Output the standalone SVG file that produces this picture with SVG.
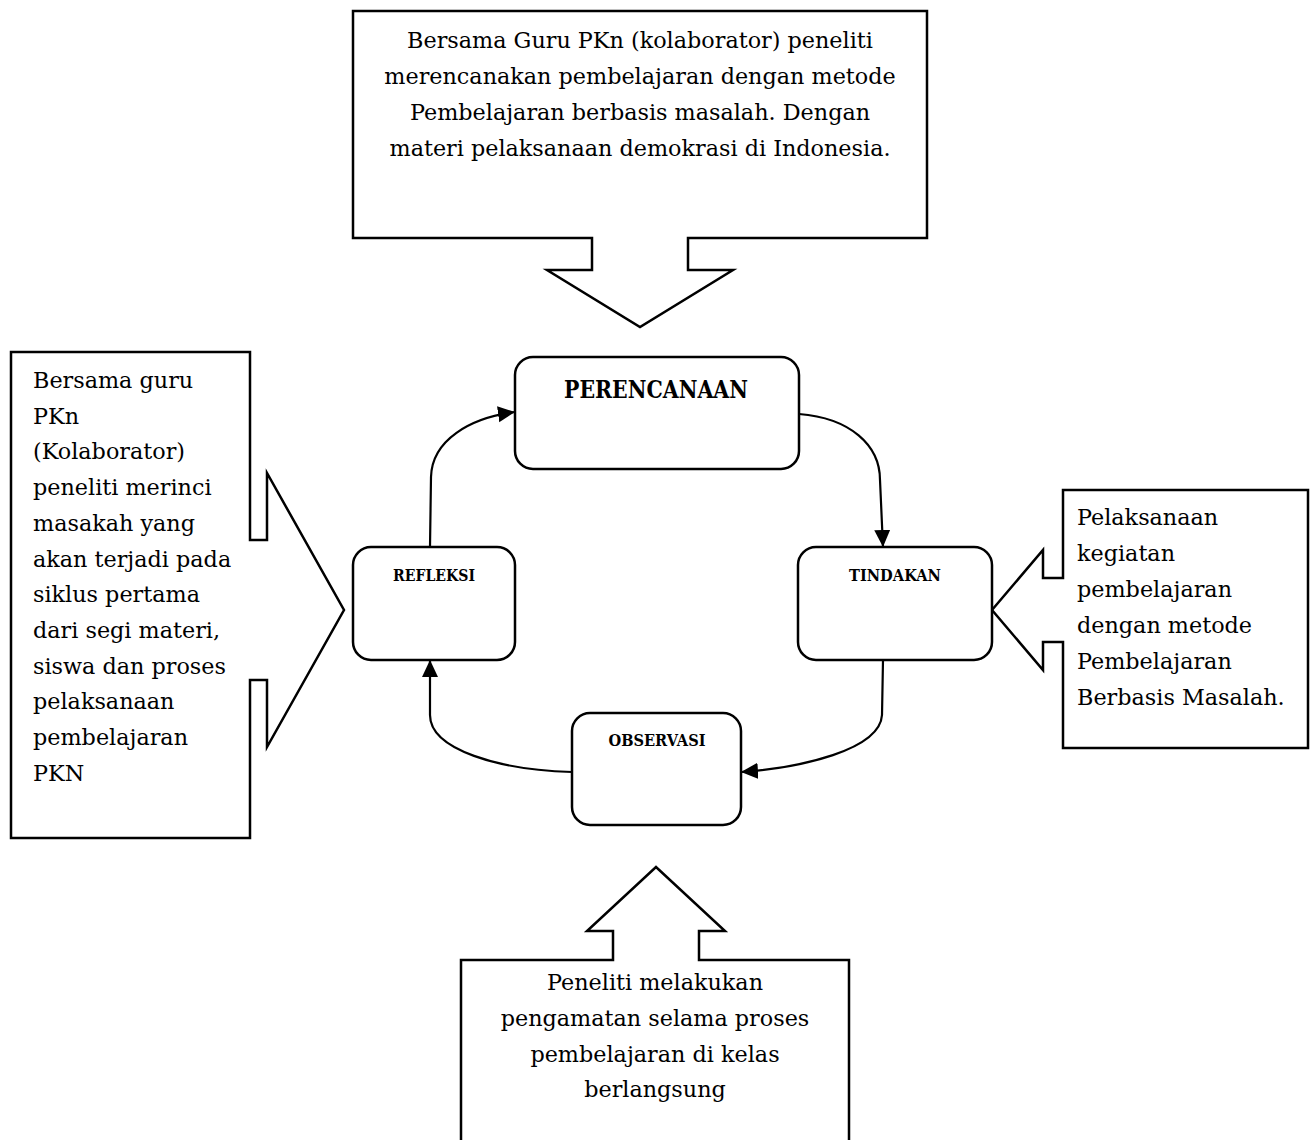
<svg xmlns="http://www.w3.org/2000/svg" width="1314" height="1140" viewBox="0 0 1314 1140">
<style>
.callout{fill:#fff;stroke:#000;stroke-width:2.5;stroke-linejoin:miter}
.step{fill:#fff;stroke:#000;stroke-width:2.5}
.conn{fill:none;stroke:#000;stroke-width:2.2}
.body{font-family:"DejaVu Serif","Liberation Serif",serif;font-size:22.3px;fill:#000}
.mid{text-anchor:middle}
.lbl{font-family:"DejaVu Serif","Liberation Serif",serif;font-weight:bold;fill:#000;text-anchor:middle}
</style>
<defs>
<marker id="ah" markerUnits="userSpaceOnUse" markerWidth="20" markerHeight="18" refX="17" refY="8" orient="auto">
<path d="M0,0 L17,8 L0,16 Z" fill="#000"/>
</marker>
</defs>
<rect width="1314" height="1140" fill="#fff"/>

<g id="callout-top">
<path class="callout" d="M353,11 H927 V238 H688 V270 H733 L640,327 L547,270 H592 V238 H353 Z"/>
<text class="body mid" x="640" y="48">Bersama Guru PKn (kolaborator) peneliti</text>
<text class="body mid" x="640" y="84">merencanakan pembelajaran dengan metode</text>
<text class="body mid" x="640" y="120">Pembelajaran berbasis masalah. Dengan</text>
<text class="body mid" x="640" y="156">materi pelaksanaan demokrasi di Indonesia.</text>
</g>

<g id="callout-left">
<path class="callout" d="M11,352 H250 V540 H267 V473 L344,610 L267,747 V680 H250 V838 H11 Z"/>
<text class="body" x="33" y="388">Bersama guru</text>
<text class="body" x="33" y="423.7">PKn</text>
<text class="body" x="33" y="459.4">(Kolaborator)</text>
<text class="body" x="33" y="495.1">peneliti merinci</text>
<text class="body" x="33" y="530.8">masakah yang</text>
<text class="body" x="33" y="566.5">akan terjadi pada</text>
<text class="body" x="33" y="602.2">siklus pertama</text>
<text class="body" x="33" y="637.9">dari segi materi,</text>
<text class="body" x="33" y="673.6">siswa dan proses</text>
<text class="body" x="33" y="709.3">pelaksanaan</text>
<text class="body" x="33" y="745">pembelajaran</text>
<text class="body" x="33" y="780.7">PKN</text>
</g>

<g id="callout-right">
<path class="callout" d="M1063,490 H1308 V748 H1063 V642 H1043 V670 L992,610 L1043,550 V578 H1063 Z"/>
<text class="body" x="1077" y="525">Pelaksanaan</text>
<text class="body" x="1077" y="561">kegiatan</text>
<text class="body" x="1077" y="597">pembelajaran</text>
<text class="body" x="1077" y="633">dengan metode</text>
<text class="body" x="1077" y="669">Pembelajaran</text>
<text class="body" x="1077" y="705">Berbasis Masalah.</text>
</g>

<g id="callout-bottom">
<path class="callout" d="M461,1150 V960 H613 V931 H587 L656,867 L725,931 H699 V960 H849 V1150"/>
<text class="body mid" x="655" y="990">Peneliti melakukan</text>
<text class="body mid" x="655" y="1026">pengamatan selama proses</text>
<text class="body mid" x="655" y="1062">pembelajaran di kelas</text>
<text class="body mid" x="655" y="1097">berlangsung</text>
</g>

<g id="connectors">
<path class="conn" d="M799,414 C850,418 880,445 880,480 L883,547" marker-end="url(#ah)"/>
<path class="conn" d="M883,660 L882,715 C880,750 800,768 741,772" marker-end="url(#ah)"/>
<path class="conn" d="M572,772 C500,770 430,750 430,715 L430,660" marker-end="url(#ah)"/>
<path class="conn" d="M430,547 L431,477 C432,440 470,418 515,412" marker-end="url(#ah)"/>
</g>

<g id="perencanaan">
<rect class="step" x="515" y="357" width="284" height="112" rx="18"/>
<text class="lbl" x="656" y="398" font-size="23.5" textLength="184" lengthAdjust="spacingAndGlyphs">PERENCANAAN</text>
</g>

<g id="tindakan">
<rect class="step" x="798" y="547" width="194" height="113" rx="18"/>
<text class="lbl" x="895" y="581" font-size="17" textLength="92" lengthAdjust="spacingAndGlyphs">TINDAKAN</text>
</g>

<g id="observasi">
<rect class="step" x="572" y="713" width="169" height="112" rx="18"/>
<text class="lbl" x="657" y="746" font-size="17" textLength="97" lengthAdjust="spacingAndGlyphs">OBSERVASI</text>
</g>

<g id="refleksi">
<rect class="step" x="353" y="547" width="162" height="113" rx="18"/>
<text class="lbl" x="434" y="581" font-size="17" textLength="82" lengthAdjust="spacingAndGlyphs">REFLEKSI</text>
</g>
</svg>
